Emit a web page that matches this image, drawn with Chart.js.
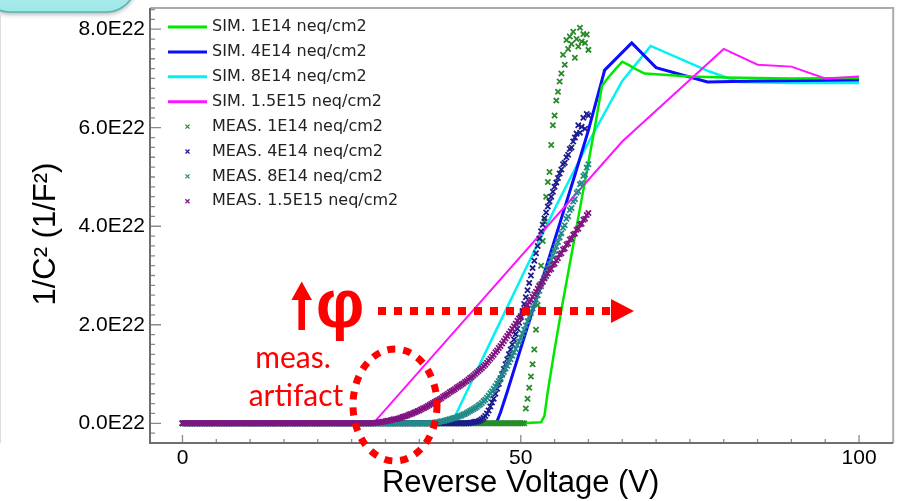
<!DOCTYPE html>
<html>
<head>
<meta charset="utf-8">
<title>1/C² vs reverse voltage</title>
<script src="https://cdn.jsdelivr.net/npm/chart.js@4/dist/chart.umd.min.js"></script>
<style>
  html, body { margin: 0; padding: 0; background: #fff; overflow: hidden; }
  canvas { display: block; }
</style>
</head>
<body>
<canvas id="cvChart" width="897" height="501"></canvas>
<script>
// 1/C^2 values are in units of 1E22 (1/F^2), voltages in V

// measured sweep, 0.25 V steps
const measV = [
  0, 0.25, 0.5, 0.75, 1, 1.25, 1.5, 1.75, 2, 2.25, 2.5, 2.75, 3, 3.25, 3.5, 3.75,
  4, 4.25, 4.5, 4.75, 5, 5.25, 5.5, 5.75, 6, 6.25, 6.5, 6.75, 7, 7.25, 7.5, 7.75,
  8, 8.25, 8.5, 8.75, 9, 9.25, 9.5, 9.75, 10, 10.25, 10.5, 10.75, 11, 11.25, 11.5, 11.75,
  12, 12.25, 12.5, 12.75, 13, 13.25, 13.5, 13.75, 14, 14.25, 14.5, 14.75, 15, 15.25, 15.5, 15.75,
  16, 16.25, 16.5, 16.75, 17, 17.25, 17.5, 17.75, 18, 18.25, 18.5, 18.75, 19, 19.25, 19.5, 19.75,
  20, 20.25, 20.5, 20.75, 21, 21.25, 21.5, 21.75, 22, 22.25, 22.5, 22.75, 23, 23.25, 23.5, 23.75,
  24, 24.25, 24.5, 24.75, 25, 25.25, 25.5, 25.75, 26, 26.25, 26.5, 26.75, 27, 27.25, 27.5, 27.75,
  28, 28.25, 28.5, 28.75, 29, 29.25, 29.5, 29.75, 30, 30.25, 30.5, 30.75, 31, 31.25, 31.5, 31.75,
  32, 32.25, 32.5, 32.75, 33, 33.25, 33.5, 33.75, 34, 34.25, 34.5, 34.75, 35, 35.25, 35.5, 35.75,
  36, 36.25, 36.5, 36.75, 37, 37.25, 37.5, 37.75, 38, 38.25, 38.5, 38.75, 39, 39.25, 39.5, 39.75,
  40, 40.25, 40.5, 40.75, 41, 41.25, 41.5, 41.75, 42, 42.25, 42.5, 42.75, 43, 43.25, 43.5, 43.75,
  44, 44.25, 44.5, 44.75, 45, 45.25, 45.5, 45.75, 46, 46.25, 46.5, 46.75, 47, 47.25, 47.5, 47.75,
  48, 48.25, 48.5, 48.75, 49, 49.25, 49.5, 49.75, 50, 50.25, 50.5, 50.75, 51, 51.25, 51.5, 51.75,
  52, 52.25, 52.5, 52.75, 53, 53.25, 53.5, 53.75, 54, 54.25, 54.5, 54.75, 55, 55.25, 55.5, 55.75,
  56, 56.25, 56.5, 56.75, 57, 57.25, 57.5, 57.75, 58, 58.25, 58.5, 58.75, 59, 59.25, 59.5, 59.75,
  60
];

const meas1e14 = [
  0, 0, 0, 0, 0, 0, 0, 0, 0, 0, 0, 0, 0, 0, 0, 0,
  0, 0, 0, 0, 0, 0, 0, 0, 0, 0, 0, 0, 0, 0, 0, 0,
  0, 0, 0, 0, 0, 0, 0, 0, 0, 0, 0, 0, 0, 0, 0, 0,
  0, 0, 0, 0, 0, 0, 0, 0, 0, 0, 0, 0, 0, 0, 0, 0,
  0, 0, 0, 0, 0, 0, 0, 0, 0, 0, 0, 0, 0, 0, 0, 0,
  0, 0, 0, 0, 0, 0, 0, 0, 0, 0, 0, 0, 0, 0, 0, 0,
  0, 0, 0, 0, 0, 0, 0, 0, 0, 0, 0, 0, 0, 0, 0, 0,
  0, 0, 0, 0, 0, 0, 0, 0, 0, 0, 0, 0, 0, 0, 0, 0,
  0, 0, 0, 0, 0, 0, 0, 0, 0, 0, 0, 0, 0, 0, 0, 0,
  0, 0, 0, 0, 0, 0, 0, 0, 0, 0, 0, 0, 0, 0, 0, 0,
  0, 0, 0, 0, 0, 0, 0, 0, 0, 0, 0, 0, 0, 0, 0, 0,
  0, 0, 0, 0, 0, 0, 0, 0, 0, 0, 0, 0, 0, 0, 0, 0,
  0, 0, 0, 0, 0, 0, 0, 0, 0, 0, 0, 0.30, 0.50, 0.72, 0.95, 1.20,
  1.50, 1.90, 2.40, 2.80, 3.20, 3.70, 4.10, 4.60, 4.90, 5.10, 5.65, 6.05, 6.25, 6.55, 6.73, 6.94,
  7.10, 7.48, 7.28, 7.78, 7.60, 7.85, 7.70, 7.95, 7.42, 7.80, 7.65, 8.03, 7.75, 7.90, 7.72, 7.89,
  7.58
];

const meas4e14 = [
  0, 0, 0, 0, 0, 0, 0, 0, 0, 0, 0, 0, 0, 0, 0, 0,
  0, 0, 0, 0, 0, 0, 0, 0, 0, 0, 0, 0, 0, 0, 0, 0,
  0, 0, 0, 0, 0, 0, 0, 0, 0, 0, 0, 0, 0, 0, 0, 0,
  0, 0, 0, 0, 0, 0, 0, 0, 0, 0, 0, 0, 0, 0, 0, 0,
  0, 0, 0, 0, 0, 0, 0, 0, 0, 0, 0, 0, 0, 0, 0, 0,
  0, 0, 0, 0, 0, 0, 0, 0, 0, 0, 0, 0, 0, 0, 0, 0,
  0, 0, 0, 0, 0, 0, 0, 0, 0, 0, 0, 0, 0, 0, 0, 0,
  0, 0, 0, 0, 0, 0, 0, 0, 0, 0, 0, 0, 0, 0, 0, 0,
  0, 0, 0, 0, 0, 0, 0, 0, 0, 0, 0, 0, 0, 0, 0, 0,
  0, 0, 0, 0, 0, 0, 0, 0, 0, 0, 0, 0, 0, 0, 0, 0,
  0, 0, 0, 0, 0, 0, 0, 0, 0, 0, 0.01, 0.01, 0.02, 0.03, 0.03, 0.04,
  0.06, 0.08, 0.11, 0.15, 0.20, 0.26, 0.34, 0.42, 0.50, 0.60, 0.70, 0.80, 0.90, 1.00, 1.10, 1.20,
  1.30, 1.40, 1.50, 1.60, 1.70, 1.81, 1.92, 2.04, 2.15, 2.28, 2.42, 2.56, 2.70, 2.85, 3.00, 3.15,
  3.30, 3.45, 3.60, 3.75, 3.90, 4.03, 4.16, 4.28, 4.40, 4.50, 4.60, 4.70, 4.80, 4.89, 4.98, 5.07,
  5.15, 5.26, 5.29, 5.40, 5.45, 5.57, 5.60, 5.72, 5.80, 5.88, 6.05, 5.90, 6.02, 6.20, 5.98, 6.28,
  6.25
];

const meas8e14 = [
  0, 0, 0, 0, 0, 0, 0, 0, 0, 0, 0, 0, 0, 0, 0, 0,
  0, 0, 0, 0, 0, 0, 0, 0, 0, 0, 0, 0, 0, 0, 0, 0,
  0, 0, 0, 0, 0, 0, 0, 0, 0, 0, 0, 0, 0, 0, 0, 0,
  0, 0, 0, 0, 0, 0, 0, 0, 0, 0, 0, 0, 0, 0, 0, 0,
  0, 0, 0, 0, 0, 0, 0, 0, 0, 0, 0, 0, 0, 0, 0, 0,
  0, 0, 0, 0, 0, 0, 0, 0, 0, 0, 0, 0, 0, 0, 0, 0,
  0, 0, 0, 0, 0, 0, 0, 0, 0, 0, 0, 0, 0, 0, 0, 0,
  0, 0, 0, 0, 0, 0, 0, 0, 0, 0, 0, 0, 0, 0, 0, 0,
  0, 0, 0, 0, 0, 0, 0, 0, 0, 0, 0, 0, 0, 0, 0, 0,
  0, 0, 0, 0.01, 0.01, 0.01, 0.02, 0.02, 0.03, 0.04, 0.04, 0.05, 0.06, 0.07, 0.08, 0.09,
  0.10, 0.11, 0.12, 0.14, 0.15, 0.16, 0.18, 0.19, 0.21, 0.23, 0.25, 0.27, 0.29, 0.31, 0.33, 0.36,
  0.38, 0.41, 0.45, 0.48, 0.52, 0.56, 0.61, 0.65, 0.70, 0.75, 0.81, 0.86, 0.92, 0.98, 1.04, 1.11,
  1.17, 1.24, 1.30, 1.37, 1.44, 1.51, 1.59, 1.66, 1.74, 1.82, 1.90, 1.99, 2.07, 2.16, 2.24, 2.33,
  2.42, 2.51, 2.60, 2.69, 2.78, 2.87, 2.96, 3.05, 3.14, 3.23, 3.32, 3.41, 3.50, 3.59, 3.68, 3.77,
  3.86, 3.97, 4.02, 4.15, 4.20, 4.33, 4.37, 4.50, 4.55, 4.68, 4.71, 4.85, 4.88, 5.02, 5.05, 5.19,
  5.26
];

const meas15e15 = [
  0, 0, 0, 0, 0, 0, 0, 0, 0, 0, 0, 0, 0, 0, 0, 0,
  0, 0, 0, 0, 0, 0, 0, 0, 0, 0, 0, 0, 0, 0, 0, 0,
  0, 0, 0, 0, 0, 0, 0, 0, 0, 0, 0, 0, 0, 0, 0, 0,
  0, 0, 0, 0, 0, 0, 0, 0, 0, 0, 0, 0, 0, 0, 0, 0,
  0, 0, 0, 0, 0, 0, 0, 0, 0, 0, 0, 0, 0, 0, 0, 0,
  0, 0, 0, 0, 0, 0, 0, 0, 0, 0, 0, 0, 0, 0, 0, 0,
  0, 0, 0, 0, 0, 0, 0, 0, 0, 0, 0, 0, 0, 0, 0, 0,
  0, 0, 0.01, 0.01, 0.02, 0.02, 0.03, 0.03, 0.04, 0.05, 0.05, 0.06, 0.07, 0.08, 0.08, 0.09,
  0.10, 0.11, 0.13, 0.14, 0.15, 0.16, 0.18, 0.19, 0.20, 0.22, 0.23, 0.25, 0.26, 0.28, 0.30, 0.31,
  0.33, 0.35, 0.37, 0.39, 0.41, 0.43, 0.45, 0.47, 0.49, 0.51, 0.54, 0.56, 0.58, 0.60, 0.63, 0.65,
  0.67, 0.69, 0.72, 0.74, 0.76, 0.79, 0.81, 0.84, 0.86, 0.89, 0.92, 0.94, 0.97, 1.00, 1.03, 1.06,
  1.09, 1.12, 1.16, 1.19, 1.23, 1.27, 1.31, 1.35, 1.39, 1.44, 1.48, 1.53, 1.57, 1.62, 1.67, 1.72,
  1.77, 1.82, 1.87, 1.92, 1.97, 2.02, 2.08, 2.13, 2.18, 2.24, 2.29, 2.35, 2.40, 2.46, 2.51, 2.57,
  2.62, 2.67, 2.73, 2.78, 2.83, 2.88, 2.94, 2.99, 3.04, 3.11, 3.13, 3.22, 3.24, 3.31, 3.35, 3.43,
  3.45, 3.53, 3.55, 3.63, 3.65, 3.73, 3.75, 3.83, 3.85, 3.93, 3.95, 4.04, 4.05, 4.13, 4.15, 4.23,
  4.27
];

// simulated curves, each on its own voltage grid
const simV1e14 = [0, 50, 53, 53.5, 54, 55, 56, 57, 58, 59, 60, 61, 62, 63, 64, 65, 66, 67, 68.3, 75, 80, 90, 100];
const simY1e14 = [0, 0, 0.02, 0.15, 0.65, 1.5, 2.3, 3.05, 3.8, 4.55, 5.3, 6.05, 6.85, 7.03, 7.19, 7.34, 7.27, 7.19, 7.1, 7.04, 7.02, 7.0, 7.01];

const simV4e14 = [0, 46, 46.5, 47, 48, 50, 52, 54, 56, 58, 60, 62.4, 66.4, 70, 77.6, 85, 92, 100];
const simY4e14 = [0, 0, 0.04, 0.22, 0.64, 1.52, 2.4, 3.28, 4.16, 5.04, 5.95, 7.17, 7.72, 7.22, 6.93, 6.95, 6.96, 6.97];

const simV8e14 = [0, 39.5, 40, 45, 50, 55, 60, 65, 69.2, 77.9, 82.3, 90, 100];
const simY8e14 = [0, 0, 0.06, 1.5, 2.93, 4.35, 5.7, 6.95, 7.66, 7.14, 6.93, 6.91, 6.91];

const simV15e15 = [0, 28.2, 65, 80, 85, 90, 95, 100];
const simY15e15 = [0, 0, 5.72, 7.6, 7.28, 7.24, 7.0, 7.04];

const yMajorStep = 2;
const xLabelStep = 50;

const toPoints = (xs, ys) => xs.map((x, i) => ({ x: x, y: ys[i] }));

function simSet(label, xs, ys, color, width, order) {
  return {
    label: label,
    data: toPoints(xs, ys),
    showLine: true,
    borderColor: color,
    backgroundColor: color,
    borderWidth: width,
    pointRadius: 0,
    order: order,
  };
}

function measSet(label, ys, color, order) {
  return {
    label: label,
    data: toPoints(measV, ys),
    showLine: false,
    pointStyle: "crossRot",
    pointRadius: 3.7,
    pointBorderWidth: 1.8,
    pointBorderColor: color,
    pointBackgroundColor: color,
    borderColor: color,
    order: order,
  };
}

const datasets = [
  simSet("SIM. 1E14 neq/cm2", simV1e14, simY1e14, "#00e800", 2.5, 5),
  simSet("SIM. 4E14 neq/cm2", simV4e14, simY4e14, "#0c0cff", 3, 6),
  simSet("SIM. 8E14 neq/cm2", simV8e14, simY8e14, "#00f2f2", 2.5, 7),
  simSet("SIM. 1.5E15 neq/cm2", simV15e15, simY15e15, "#ff14ff", 2, 4),
  measSet("MEAS. 1E14 neq/cm2", meas1e14, "#2a8a2a", 3),
  measSet("MEAS. 4E14 neq/cm2", meas4e14, "#1c1c8e", 2),
  measSet("MEAS. 8E14 neq/cm2", meas8e14, "#238a8a", 1),
  measSet("MEAS. 1.5E15 neq/cm2", meas15e15, "#801480", 0),
];

// frame, inward ticks, legend and the red notes on top of the plot
const overlay = {
  id: "overlay",
  beforeDraw(chart) {
    const ctx = chart.ctx;
    ctx.save();
    // edge of the cyan callout in the corner
    ctx.shadowColor = "rgba(0,0,0,0.35)";
    ctx.shadowBlur = 5;
    ctx.shadowOffsetY = 2;
    const g = ctx.createLinearGradient(0, -60, 0, 12);
    g.addColorStop(0, "#d6f9f9");
    g.addColorStop(1, "#9ee8e8");
    ctx.fillStyle = g;
    ctx.beginPath();
    ctx.roundRect(-20, -60, 156, 72, 30);
    ctx.fill();
    ctx.shadowColor = "transparent";
    ctx.strokeStyle = "#5ab4b4";
    ctx.lineWidth = 1.5;
    ctx.stroke();
    // faint left border
    ctx.strokeStyle = "#dddddd";
    ctx.lineWidth = 1;
    ctx.beginPath();
    ctx.moveTo(0.5, 14);
    ctx.lineTo(0.5, 443);
    ctx.stroke();
    ctx.restore();
  },
  afterDraw(chart) {
    const { ctx, chartArea: a, scales } = chart;
    const xs = scales.x, ys = scales.y;
    const frameRight = Math.min(a.right + 2, chart.width - 2);
    ctx.save();

    // tick marks pointing into the plot
    ctx.strokeStyle = "#8a8a8a";
    ctx.lineWidth = 1.3;
    ctx.beginPath();
    ys.ticks.forEach((t) => {
      const py = ys.getPixelForValue(t.value);
      const len = t.label ? 11 : 5;
      ctx.moveTo(a.left, py);
      ctx.lineTo(a.left + len, py);
    });
    xs.ticks.forEach((t) => {
      const px = xs.getPixelForValue(t.value);
      const len = t.label ? 8 : 4;
      ctx.moveTo(px, a.bottom);
      ctx.lineTo(px, a.bottom - len);
    });
    ctx.stroke();

    // frame
    ctx.lineWidth = 2;
    ctx.strokeStyle = "#ababab";
    ctx.beginPath();
    ctx.moveTo(a.left, a.top);
    ctx.lineTo(frameRight, a.top);
    ctx.lineTo(frameRight, a.bottom);
    ctx.stroke();
    ctx.strokeStyle = "#6e6e6e";
    ctx.beginPath();
    ctx.moveTo(a.left, a.top);
    ctx.lineTo(a.left, a.bottom);
    ctx.lineTo(frameRight, a.bottom);
    ctx.stroke();

    // legend
    ctx.font = '16px "DejaVu Sans"';
    ctx.textBaseline = "middle";
    ctx.textAlign = "left";
    chart.data.datasets.forEach((ds, i) => {
      const ry = 27 + i * 24.9;
      if (ds.showLine) {
        ctx.strokeStyle = ds.borderColor;
        ctx.lineWidth = 3;
        ctx.beginPath();
        ctx.moveTo(168, ry);
        ctx.lineTo(207, ry);
        ctx.stroke();
      } else {
        ctx.strokeStyle = ds.pointBorderColor;
        ctx.lineWidth = 1.3;
        ctx.beginPath();
        ctx.moveTo(185.5, ry - 2);
        ctx.lineTo(189.5, ry + 2);
        ctx.moveTo(185.5, ry + 2);
        ctx.lineTo(189.5, ry - 2);
        ctx.stroke();
      }
      ctx.fillStyle = "#222";
      ctx.fillText(ds.label, 212, ry);
    });

    // red notes
    const red = "#ff0000";
    ctx.fillStyle = red;
    ctx.strokeStyle = red;

    // up arrow
    ctx.beginPath();
    ctx.moveTo(301.7, 281.5);
    ctx.lineTo(312, 300);
    ctx.lineTo(305, 300);
    ctx.lineTo(305, 330);
    ctx.lineTo(298.4, 330);
    ctx.lineTo(298.4, 300);
    ctx.lineTo(291.4, 300);
    ctx.closePath();
    ctx.fill();

    ctx.font = 'bold 68px "Liberation Sans"';
    ctx.textAlign = "center";
    ctx.textBaseline = "alphabetic";
    ctx.fillText("φ", 340, 327);

    // dotted arrow to the right
    ctx.lineWidth = 8;
    ctx.setLineDash([8, 8]);
    ctx.beginPath();
    ctx.moveTo(378, 311);
    ctx.lineTo(610, 311);
    ctx.stroke();
    ctx.setLineDash([]);
    ctx.beginPath();
    ctx.moveTo(611, 299);
    ctx.lineTo(634, 311);
    ctx.lineTo(611, 323);
    ctx.closePath();
    ctx.fill();

    ctx.font = '30px Lato';
    ctx.fillText("meas.", 293, 368);
    ctx.fillText("artifact", 296, 406);

    // dotted ring round the low-voltage knee
    ctx.lineWidth = 7;
    ctx.setLineDash([8, 8]);
    ctx.beginPath();
    ctx.ellipse(395, 405, 42, 56, 0, 0, Math.PI * 2);
    ctx.stroke();
    ctx.setLineDash([]);

    ctx.restore();
  },
};

Chart.defaults.font.family = '"Liberation Sans", Arial, sans-serif';
Chart.defaults.color = "#000";

new Chart(document.getElementById("cvChart"), {
  type: "scatter",
  data: { datasets: datasets },
  options: {
    responsive: false,
    animation: false,
    events: [],
    layout: { padding: { top: 8, right: 3, bottom: 0, left: 0 } },
    plugins: {
      legend: { display: false },
      tooltip: { enabled: false },
    },
    scales: {
      x: {
        type: "linear",
        position: "bottom",
        min: -4.8,
        max: 104.75,
        grid: { display: false, drawTicks: false },
        border: { display: false },
        ticks: {
          stepSize: 5,
          autoSkip: false,
          includeBounds: false,
          maxRotation: 0,
          minRotation: 0,
          padding: 3,
          font: { size: 21 },
          color: "#000",
          callback: (v) => (Math.abs(v % xLabelStep) < 1e-6 ? String(v) : ""),
        },
        title: {
          display: true,
          text: "Reverse Voltage (V)",
          font: { size: 31, lineHeight: 1.1 },
          padding: 0,
          color: "#000",
        },
        afterFit: (s) => {
          s.height = 58;
          s.paddingLeft = 0;
          s.paddingRight = 0;
        },
      },
      y: {
        type: "linear",
        min: -0.4,
        max: 8.43,
        grid: { display: false, drawTicks: false },
        border: { display: false },
        ticks: {
          stepSize: 0.2,
          autoSkip: false,
          includeBounds: false,
          padding: 5,
          font: { size: 21 },
          color: "#000",
          callback: (v) => {
            const k = v / yMajorStep;
            return Math.abs(k - Math.round(k)) < 1e-6 && v > -0.01 ? v.toFixed(1) + "E22" : "";
          },
        },
        title: {
          display: true,
          text: "1/C² (1/F²)  ",
          font: { size: 31, lineHeight: 1.1 },
          padding: { top: 29, bottom: 0 },
          color: "#000",
        },
        afterFit: (s) => {
          s.width = 150;
          s.paddingTop = 0;
          s.paddingBottom = 0;
        },
      },
    },
  },
  plugins: [overlay],
});
</script>
</body>
</html>
